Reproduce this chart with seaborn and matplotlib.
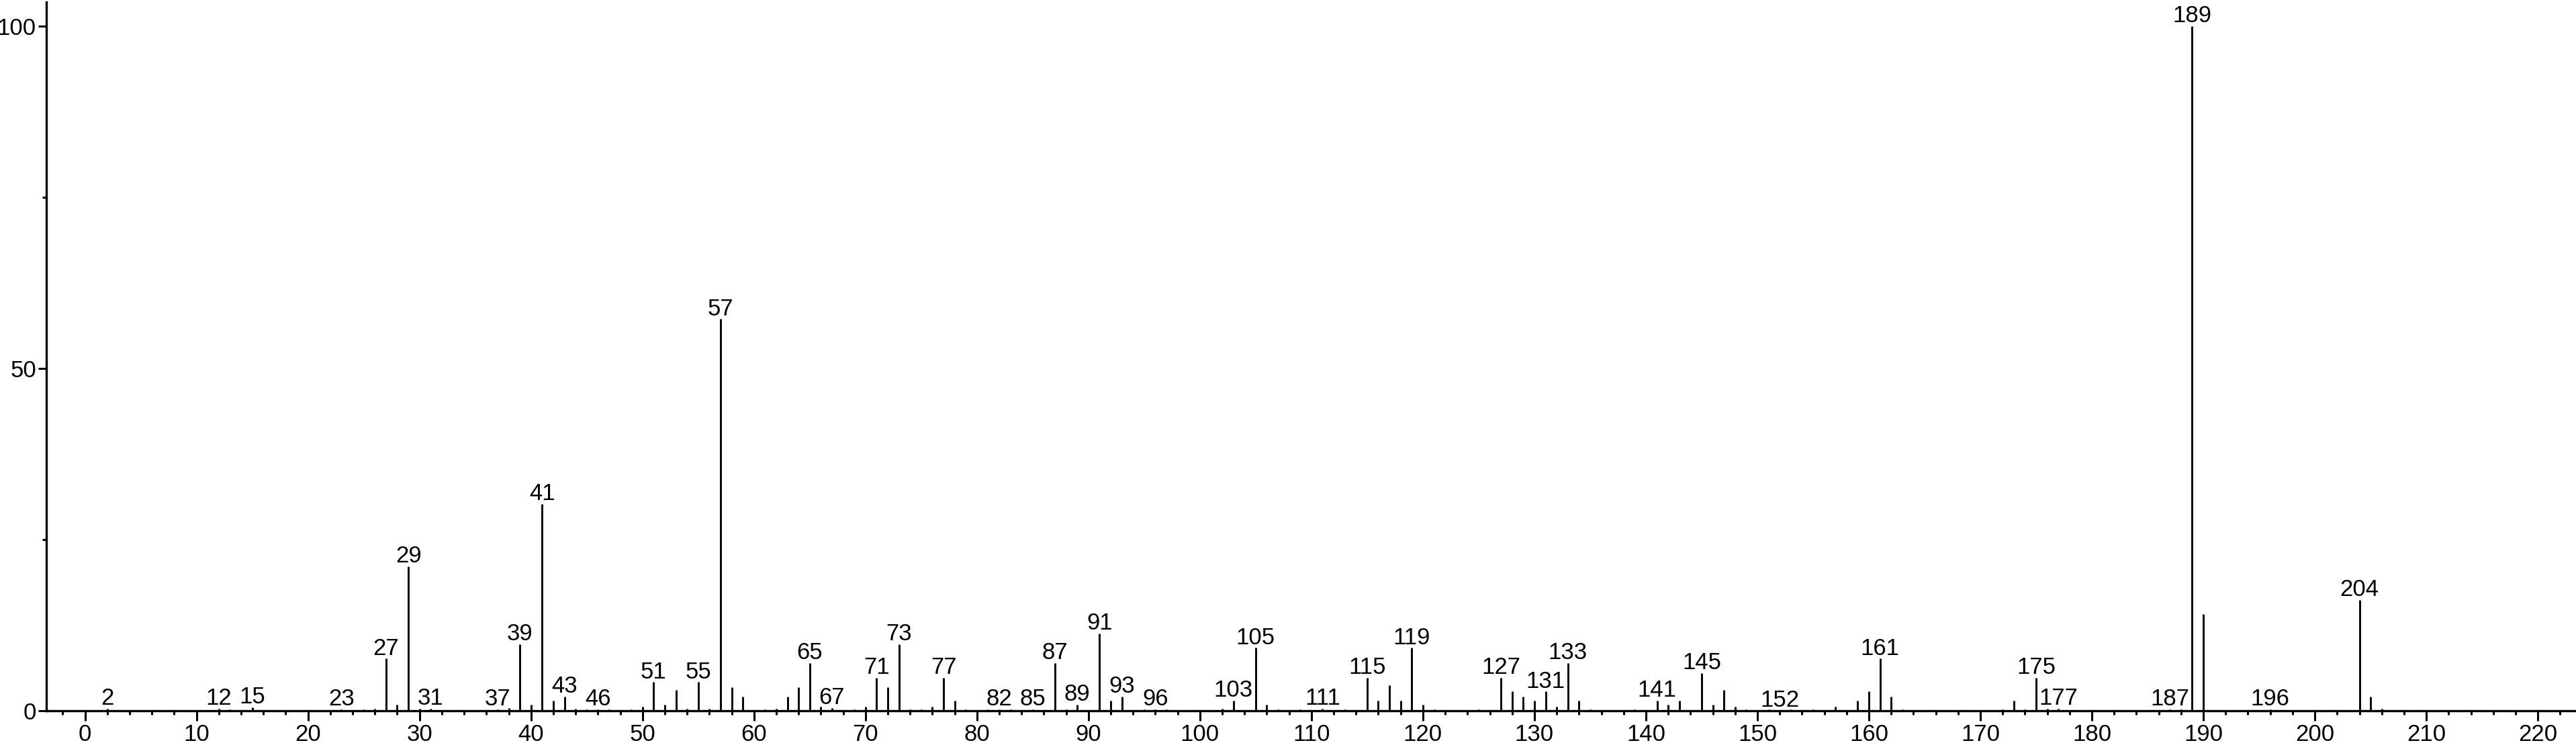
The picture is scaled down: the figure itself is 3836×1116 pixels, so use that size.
import matplotlib
matplotlib.use("Agg")
import matplotlib.pyplot as plt
import seaborn as sns
import numpy as np
from matplotlib.ticker import MultipleLocator

# m/z values and relative intensities
mz = [2, 12, 13, 15, 23, 25, 26, 27, 28, 29, 30, 31, 37, 38, 39, 40, 41, 42, 43, 44,
      45, 46, 47, 49, 50, 51, 52, 53, 54, 55, 56, 57, 58, 59, 61, 62, 63, 64, 65, 66,
      67, 69, 70, 71, 72, 73, 74, 75, 76, 77, 78, 79, 81, 82, 83, 85, 87, 88, 89, 91,
      92, 93, 95, 96, 97, 102, 103, 105, 106, 107, 109, 111, 113, 115, 116, 117, 118, 119, 120, 121,
      125, 127, 128, 129, 130, 131, 132, 133, 134, 135, 139, 141, 142, 143, 145, 146, 147, 148, 149, 151,
      153, 155, 157, 159, 160, 161, 162, 163, 172, 173, 174, 175, 176, 177, 187, 188, 189, 190, 196, 204,
      205, 206]
intensity = [0.3, 0.3, 0.2, 0.5, 0.2, 0.2, 0.3, 7.6, 0.9, 21.1, 0.3, 0.3, 0.2, 0.4, 9.7, 0.9, 30.2, 1.5, 2.1, 0.3,
             0.2, 0.2, 0.2, 0.2, 0.6, 4.2, 0.9, 3.0, 0.3, 4.2, 0.3, 57.2, 3.4, 2.1, 0.2, 0.3, 2.1, 3.4, 7.0, 0.6,
             0.4, 0.2, 0.6, 4.8, 3.4, 9.7, 0.2, 0.2, 0.6, 4.8, 1.5, 0.2, 0.2, 0.2, 0.2, 0.2, 7.0, 0.2, 0.9, 11.3,
             1.5, 2.1, 0.2, 0.2, 0.2, 0.3, 1.5, 9.2, 0.9, 0.2, 0.2, 0.3, 0.2, 4.8, 1.5, 3.7, 1.5, 9.2, 0.9, 0.2,
             0.2, 4.8, 2.8, 2.1, 1.5, 2.8, 0.6, 7.0, 1.5, 0.2, 0.2, 1.5, 0.9, 1.5, 5.5, 0.9, 3.0, 0.6, 0.2, 0.2,
             0.2, 0.2, 0.6, 1.5, 2.8, 7.6, 2.1, 0.2, 0.2, 1.5, 0.2, 4.8, 0.3, 0.3, 0.2, 0.2, 100.0, 14.1, 0.2, 16.2,
             2.1, 0.3]

# peaks that carry a m/z label
labelled = [2, 12, 15, 23, 27, 29, 31, 37, 39, 41, 43, 46, 51, 55, 57, 65, 67, 71, 73, 77,
            82, 85, 87, 89, 91, 93, 96, 103, 105, 111, 115, 119, 127, 131, 133, 141, 145, 152, 161, 175,
            177, 187, 189, 196, 204]

sns.set_theme(style="ticks")
plt.rcParams['font.family'] = ['Liberation Sans', 'DejaVu Sans']

fig = plt.figure(figsize=(38.36, 11.16), dpi=100)
ax = fig.add_axes([0.01786, 0.05108, 0.9816, 0.9462])

ax.vlines(mz, 0, intensity, color='black', linewidth=2.1)

peak_height = dict(zip(mz, intensity))
for m in labelled:
    h = peak_height.get(m, 0.0)
    ax.annotate(str(m), xy=(m, h), xytext=(0, 4), textcoords='offset points',
                ha='center', va='baseline', fontsize=25, color='black', clip_on=False)

ax.set_xlim(-3.5, 223.3)
ax.set_ylim(0, 103.5)

ax.xaxis.set_major_locator(MultipleLocator(10))
ax.xaxis.set_minor_locator(MultipleLocator(2))
ax.set_yticks([0, 50, 100])
ax.yaxis.set_minor_locator(MultipleLocator(25))

sns.despine(ax=ax)
for side in ['left', 'bottom']:
    ax.spines[side].set_linewidth(2.4)
    ax.spines[side].set_color('black')

ax.tick_params(axis='x', which='major', direction='out', length=11, width=2.2,
               labelsize=25, pad=3, colors='black')
ax.tick_params(axis='x', which='minor', direction='out', length=4.5, width=2.2, colors='black')
ax.tick_params(axis='y', which='major', direction='out', length=9, width=2.2,
               labelsize=25, pad=1.5, colors='black')
ax.tick_params(axis='y', which='minor', direction='out', length=4.5, width=2.2, colors='black')

ax.set_xlabel('')
ax.set_ylabel('')
ax.grid(False)

fig.savefig('out.png', dpi=100)
